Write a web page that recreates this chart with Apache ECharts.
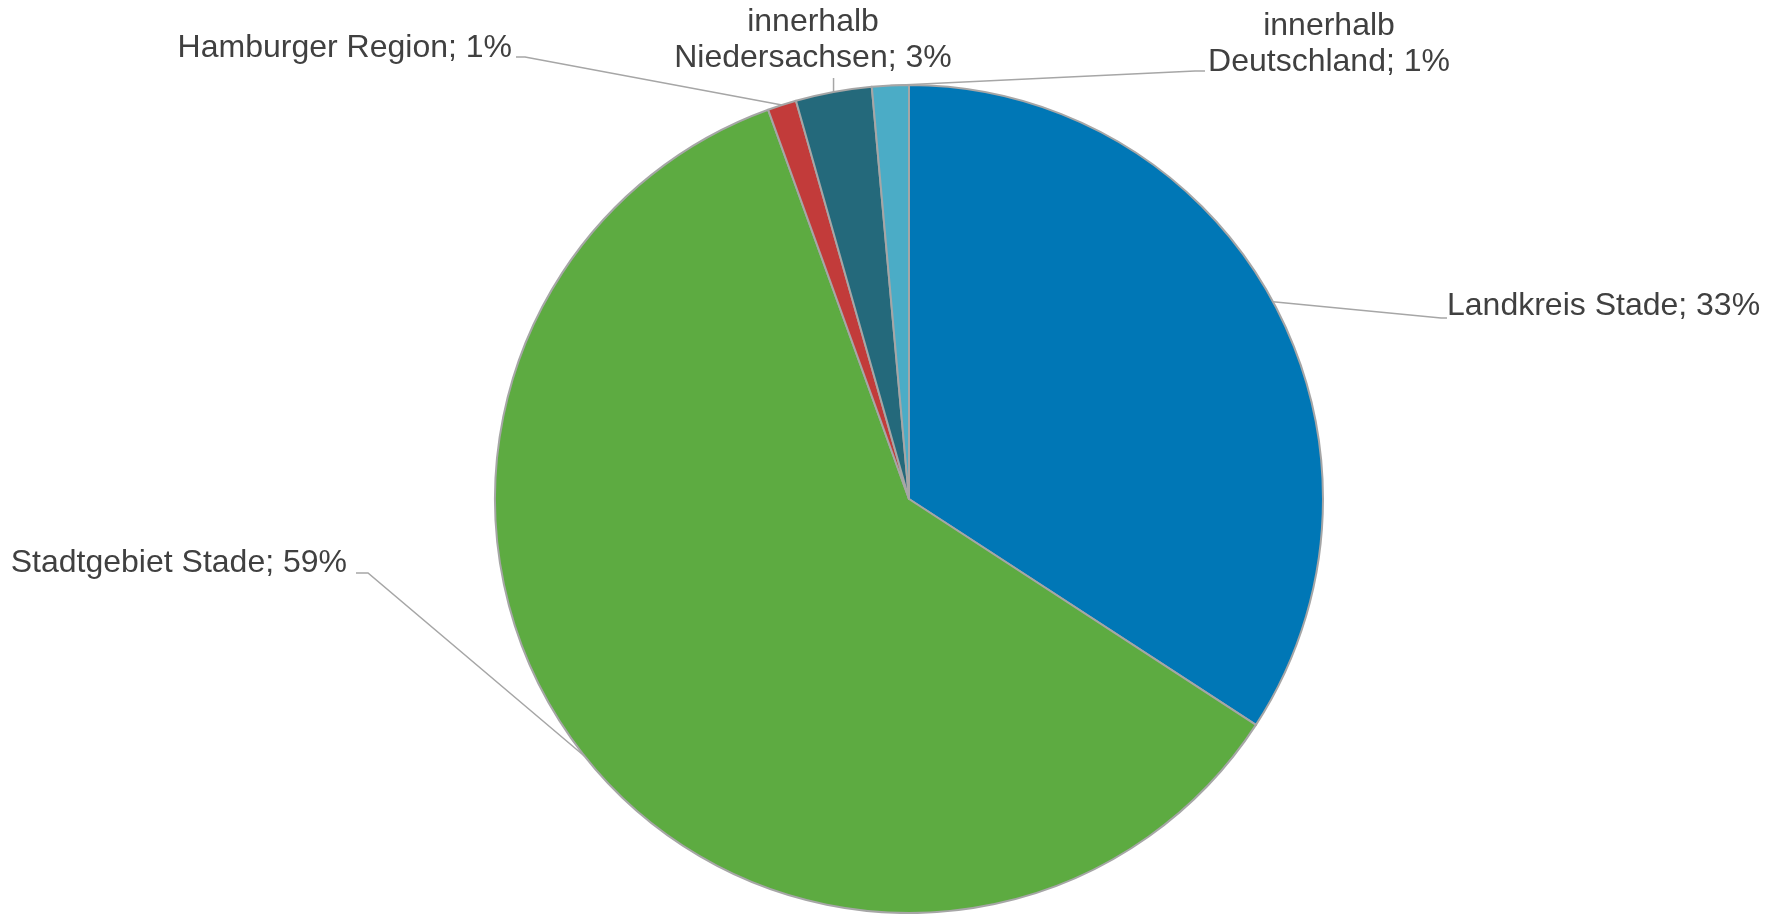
<!DOCTYPE html>
<html>
<head>
<meta charset="utf-8">
<script src="https://cdn.jsdelivr.net/npm/echarts@6/dist/echarts.min.js"></script>
<style>
  html, body { margin: 0; padding: 0; background: #ffffff; }
  #chart { width: 1779px; height: 914px; }
</style>
</head>
<body>
<div id="chart"></div>
<script>
// Herkunft: Anteile in Prozent
const categories = [
  'Landkreis Stade',
  'Stadtgebiet Stade',
  'Hamburger Region',
  'innerhalb\nNiedersachsen',
  'innerhalb\nDeutschland'
];
const shares = [33.4, 58.9, 1.1, 2.9, 1.4];
const colors = ['#0077b6', '#5dab41', '#c23b3a', '#24697b', '#4bacc6'];

// Label placement (text anchor, alignment, leader line bend/end)
const labelPlacement = [
  { x: 1447, y: 306, align: 'left',   vAlign: 'middle', bend: [1441, 318], end: [1447, 318] },
  { x: 347,  y: 563, align: 'right',  vAlign: 'middle', bend: [368, 573],  end: [356, 573] },
  { x: 512,  y: 48,  align: 'right',  vAlign: 'middle', bend: [525, 57],   end: [516, 57] },
  { x: 813,  y: 40,  align: 'center', vAlign: 'middle', bend: null,        end: [null, 78] },
  { x: 1329, y: 44,  align: 'center', vAlign: 'middle', bend: [1195, 71],  end: [1205, 71] }
];

const chart = echarts.init(document.getElementById('chart'), null, { renderer: 'canvas' });

const data = categories.map((name, i) => ({
  name: name,
  value: shares[i],
  itemStyle: { color: colors[i] }
}));

chart.setOption({
  animation: false,
  backgroundColor: '#ffffff',
  series: [{
    type: 'pie',
    center: [909, 499],
    radius: 414,
    startAngle: 90,
    clockwise: true,
    avoidLabelOverlap: false,
    data: data,
    itemStyle: { borderColor: '#a6a6a6', borderWidth: 2 },
    label: {
      show: true,
      formatter: p => p.name + '; ' + Math.round(p.value) + '%',
      fontFamily: 'Liberation Sans, Arial, sans-serif',
      fontSize: 32,
      lineHeight: 36,
      color: '#404040'
    },
    labelLine: {
      show: true,
      length: 20,
      length2: 10,
      lineStyle: { color: '#a6a6a6', width: 1.5 }
    },
    emphasis: { disabled: true },
    labelLayout: params => {
      const p = labelPlacement[params.dataIndex];
      const start = params.labelLinePoints ? params.labelLinePoints[0] : null;
      const out = { x: p.x, y: p.y, align: p.align, verticalAlign: p.vAlign };
      if (start) {
        const end = [p.end[0] == null ? start[0] : p.end[0], p.end[1]];
        const bend = p.bend ? p.bend : end;
        out.labelLinePoints = [start.slice(), bend.slice(), end];
      }
      return out;
    }
  }]
});
</script>
</body>
</html>
